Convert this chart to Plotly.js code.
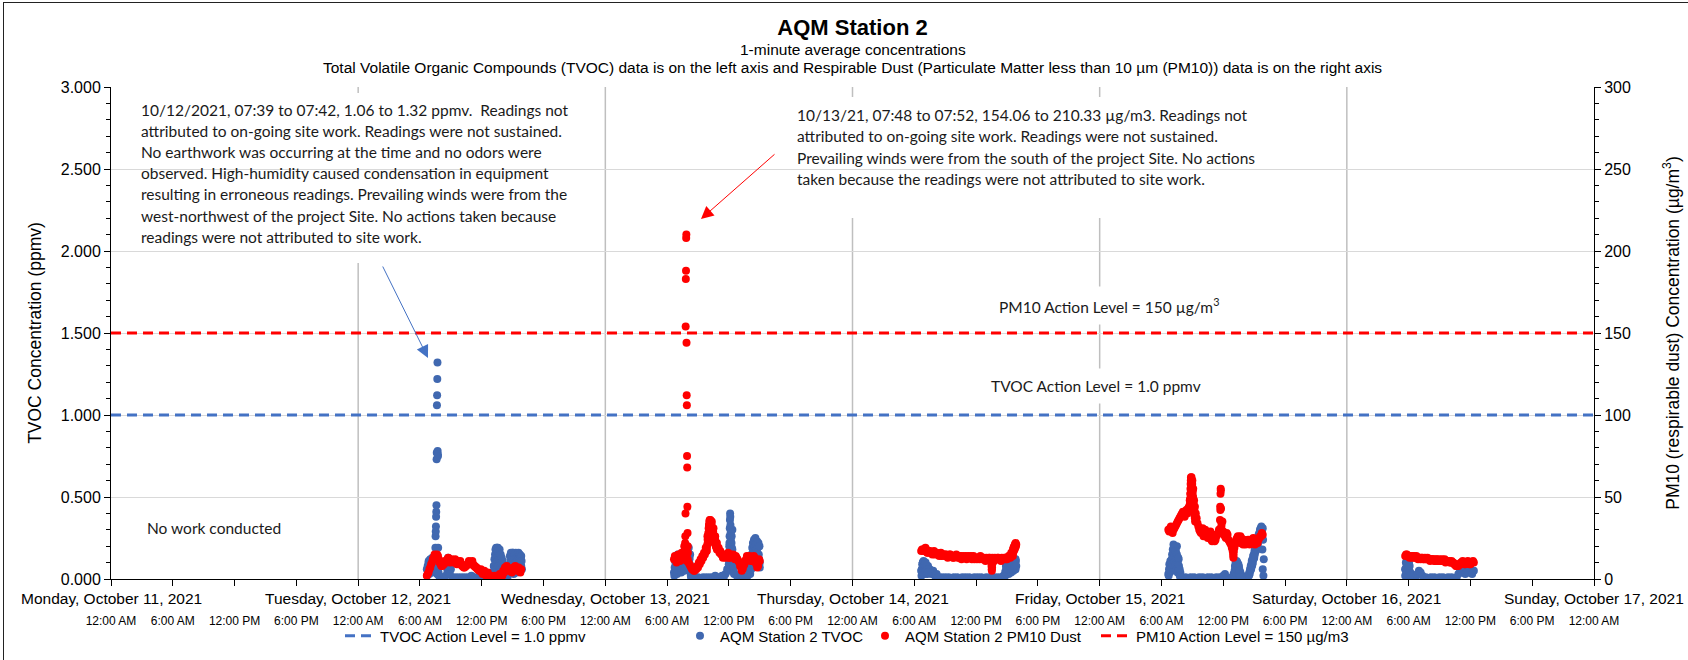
<!DOCTYPE html>
<html>
<head>
<meta charset="utf-8">
<script src="https://cdn.plot.ly/plotly-3.0.1.min.js"></script>
<style>
html,body{margin:0;padding:0;background:#fff;}
#chart{width:1688px;height:660px;}
#frame{position:absolute;left:3px;top:2px;width:1700px;height:700px;border-left:1px solid #222;border-top:1px solid #222;pointer-events:none;}
</style>
</head>
<body>
<div id="chart"></div>
<div id="frame"></div>
<script>
// ---------------- categories / labels ----------------
const dayDates = ['2021-10-11','2021-10-12','2021-10-13','2021-10-14','2021-10-15','2021-10-16','2021-10-17'];
const dayLabels = ['Monday, October 11, 2021','Tuesday, October 12, 2021','Wednesday, October 13, 2021','Thursday, October 14, 2021','Friday, October 15, 2021','Saturday, October 16, 2021','Sunday, October 17, 2021'];
const tickHours = ['00:00','06:00','12:00','18:00'];
const timeLabels = ['12:00 AM','6:00 AM','12:00 PM','6:00 PM'];

const tvocActionLevel = 1.0;   // ppmv
const pm10ActionLevel = 150;   // ug/m3

// ---------------- TVOC (ppmv) ----------------
// Oct 12
const tvoc1012Base  = [0.06,0.10,0.08,0.12,0.09,0.14,0.03,0.02,0.01,0.00,0.01,0.02,0.08,0.12,0.06,0.01,0.00,0.01,0.00,0.01,0.00,0.01,0.00,0.01,0.00,0.01,0.02,0.00,0.01,0.00,0.01,0.00,0.01,0.00,0.01,0.02,0.01,0.02,0.04,0.08,0.15,0.19,0.17,0.12,0.09,0.05,0.02,0.01,0.06,0.12,0.16,0.14,0.13,0.10,0.12,0.08]; // 06:40, 10 min
const tvoc1012Edge  = [0.02,0.08,0.05,0.11,0.03,0.09,0.12,0.06,0.10,0.04,0.13,0.07,0.10,0.05,0.11,0.08]; // 06:42, 3 min
const tvoc1012Spike = [0.10,0.14,0.19,0.26,0.29,0.32,0.38,0.41,0.45,0.73,0.77,1.06,1.12,1.22,1.32,0.78,0.76,0.75,0.19,0.08,0.04]; // 07:28, 1 min
const tvoc1012Bump1 = [0.05,0.10,0.13,0.11,0.08,0.12,0.06,0.03]; // 08:40, 2 min
const tvoc1012Bump2 = [0.03,0.08,0.12,0.06,0.15,0.18,0.10,0.19,0.14,0.05,0.17,0.11,0.19,0.08,0.16,0.13,0.04,0.18,0.12,0.07,0.15,0.10,0.03,0.13,0.09,0.02,0.11,0.06,0.04,0.08,0.02]; // 13:10, 2 min
const tvoc1012Bump3 = [0.04,0.09,0.14,0.07,0.12,0.16,0.10,0.05,0.15,0.13,0.08,0.16,0.11,0.03,0.14,0.09,0.15,0.12,0.06,0.16,0.10,0.13,0.04,0.15,0.11,0.08,0.14,0.16,0.09,0.12,0.05,0.15,0.10,0.13,0.07,0.14,0.11,0.06]; // 14:40, 2 min
// Oct 13
const tvoc1013Base  = [0.04,0.12,0.08,0.14,0.06,0.13,0.10,0.15,0.09,0.12,0.01,0.00,0.01,0.00,0.01,0.00,0.00,0.01,0.00,0.01,0.00,0.01,0.00,0.01,0.02,0.00,0.01,0.00,0.02,0.01,0.03,0.06,0.12,0.22,0.30,0.10,0.03,0.01,0.00,0.01,0.02,0.01,0.00,0.02,0.05,0.12,0.18,0.22,0.15,0.20,0.10]; // 06:40, 10 min
const tvoc1013Edge  = [0.02,0.07,0.11,0.04,0.09,0.14,0.06,0.12,0.03,0.10,0.15,0.08,0.13,0.05,0.11,0.14,0.07,0.12,0.09,0.15,0.04,0.13,0.10,0.06,0.14,0.11,0.08,0.15,0.12,0.05,0.09,0.13,0.16,0.10,0.18,0.07,0.14,0.20,0.12,0.08,0.17,0.11,0.19,0.06,0.13,0.09,0.15,0.04,0.02]; // 06:42, 2 min
const tvoc1013Peak  = [0.05,0.09,0.12,0.16,0.20,0.22,0.26,0.31,0.36,0.40,0.38,0.33,0.28,0.24,0.20,0.17,0.14,0.22,0.26,0.19,0.15,0.12,0.18,0.10,0.08,0.13,0.09,0.06,0.11,0.07,0.04,0.08,0.03]; // 11:58, 1 min
const tvoc1013End   = [0.03,0.08,0.12,0.06,0.15,0.10,0.19,0.13,0.22,0.09,0.17,0.24,0.14,0.20,0.11,0.25,0.16,0.21,0.08,0.18,0.23,0.13,0.19,0.10,0.22,0.15,0.12,0.20,0.07]; // 14:04, 2 min
// Oct 14
const tvoc1014Base  = [0.05,0.10,0.07,0.04,0.08,0.06,0.03,0.05,0.02,0.03,0.01,0.00,0.01,0.00,0.01,0.00,0.01,0.00,0.00,0.01,0.00,0.01,0.00,0.00,0.01,0.00,0.01,0.00,0.01,0.00,0.00,0.01,0.00,0.01,0.00,0.01,0.00,0.00,0.01,0.00,0.01,0.00,0.00,0.01,0.00,0.01,0.00,0.01,0.02,0.04,0.06,0.09,0.05,0.11,0.08,0.12]; // 06:40, 10 min
const tvoc1014Edge  = [0.02,0.06,0.09,0.04,0.10,0.07,0.11,0.05,0.08,0.03,0.09,0.06,0.10,0.04,0.07,0.05,0.08,0.03,0.06,0.04]; // 06:42, 2 min
const tvoc1014End   = [0.02,0.05,0.08,0.03,0.07,0.10,0.04,0.09,0.06,0.11,0.03,0.08,0.12,0.05,0.10,0.07,0.11,0.04,0.09,0.12,0.06,0.10,0.08,0.12,0.05,0.11,0.09,0.07,0.12,0.10,0.06,0.11,0.08]; // 14:50, 2 min
// Oct 15
const tvoc1015Base  = [0.03,0.08,0.05,0.10,0.15,0.20,0.12,0.04,0.01,0.00,0.01,0.00,0.00,0.01,0.00,0.01,0.00,0.00,0.01,0.00,0.01,0.00,0.00,0.01,0.00,0.01,0.00,0.00,0.01,0.00,0.01,0.00,0.02,0.03,0.01,0.00,0.00,0.01,0.03,0.06,0.10,0.08,0.04,0.02,0.01,0.00,0.01,0.03,0.06,0.09,0.13,0.17,0.21,0.25,0.29,0.31]; // 06:40, 10 min
const tvoc1015Edge  = [0.02,0.06,0.09,0.04,0.08,0.11,0.05,0.10,0.07,0.12,0.15,0.09,0.18,0.13,0.21,0.16,0.11,0.19,0.14,0.20,0.08,0.17,0.12,0.06,0.15,0.10,0.04,0.09,0.13,0.05,0.08,0.03,0.06,0.02,0.01]; // 06:42, 2 min
const tvoc1015Mid   = [0.02,0.05,0.08,0.04,0.10,0.07,0.09,0.11,0.06,0.10,0.08,0.05,0.09,0.04,0.07,0.03,0.05,0.02,0.01]; // 13:04, 2 min
const tvoc1015End   = [0.02,0.04,0.03,0.06,0.05,0.08,0.06,0.09,0.11,0.08,0.12,0.10,0.14,0.12,0.15,0.13,0.17,0.15,0.19,0.17,0.20,0.18,0.22,0.20,0.24,0.21,0.25,0.23,0.27,0.24,0.28,0.26,0.30,0.27,0.31,0.29,0.32,0.28,0.30,0.18,0.06,0.24,0.02,0.12]; // 14:30, 2 min
// Oct 16
const tvoc1016Base  = [0.06,0.11,0.08,0.04,0.01,0.00,0.01,0.03,0.05,0.04,0.02,0.00,0.01,0.00,0.00,0.01,0.00,0.01,0.00,0.00,0.01,0.00,0.01,0.00,0.00,0.01,0.00,0.01,0.00,0.00,0.01,0.03,0.05,0.04,0.06,0.03,0.05,0.04,0.06,0.03,0.05]; // 05:40, 10 min
const tvoc1016Edge  = [0.02,0.06,0.10,0.04,0.08,0.12,0.05,0.09,0.11,0.03,0.07,0.10,0.05,0.08,0.03,0.02]; // 05:40, 2 min

// ---------------- PM10 (ug/m3) ----------------
const pm1012Base  = [2,4,7,10,13,14,15,12,9,8,9,10,12,12,11,11,11,10,11,10,9,8,7,8,9,10,10,9,8,7,6,5,4,4,3,3,2,1,1,1,0.5,1,1,2,2,4,6,7,6,5,5,6,7,6,5,6]; // 06:40, 10 min
const pm1012Alt   = [3,6,9,12,15,13,14,10,8,9,11,11,13,10,12,10,12,9,10,11,8,7,8,9,11,9,11,8,7,6,5,6,3,5,2,4,1,2,0.5,2,1,2,3,3,5,7,8,5,6,4,7,8,5,7,4]; // 06:45, 10 min
const pm1013Base  = [12,13,11,14,12,13,20,14,12,9,7,6,5,6,7,9,11,13,15,17,22,30,35,31,26,22,19,17,15,14,13,14,13,15,14,13,14,12,10,7,6,9,12,13,14,12,11,13,9,8,11]; // 06:40, 10 min
const pm1013Alt   = [14,10,15,11,16,12,18,11,10,8,6,5,7,8,10,12,14,16,19,26,33,34,28,24,20,18,16,15,13,15,14,16,13,14,15,12,13,11,8,5,8,11,14,13,11,12,14,10,7,12]; // 06:45, 10 min
const pm1013Spike = [18,22,26,40,154,183,188,208,210,144,112,106,75,68,44,28,20,16]; // 07:44, 1 min
const pm1013Peak  = [17,19,21,24,26,28,31,33,35,36,34,36,35,33,34,32,30,31,28,29,27,25,26,23,22,24,21,20,22,19,18]; // 09:50, 2 min
const pm1014Base  = [17,18,17,18,16,17,16,16,15,16,15,15,14,15,15,14,14,15,14,13,14,14,13,14,13,13,14,13,13,14,13,12,13,13,12,13,13,12,13,12,13,12,12,13,12,13,12,13,12,13,12,14,13,15,19,21]; // 06:40, 10 min
const pm1014Alt   = [18,17,19,16,17,16,15,17,16,15,14,16,15,14,15,13,15,14,13,14,15,13,14,12,14,13,12,14,13,12,14,13,12,13,14,12,13,11,12,13,12,13,11,12,13,12,11,12,13,12,13,14,16,18,20]; // 06:45, 10 min
const pm1014Drip  = [12,10,8,6,5,7,9,11]; // 13:28, 1 min
const pm1014End   = [14,16,19,17,20,18,21,19,22,20,21]; // 15:34, 2 min
const pm1015Base  = [30,31,29,30,32,34,36,38,40,39,41,40,44,52,60,48,40,34,30,28,31,27,29,25,28,24,27,23,26,28,30,33,29,26,28,24,22,19,16,22,25,23,26,22,24,21,23,22,24,22,23,24,22,25,26,27]; // 06:40, 10 min
const pm1015Alt   = [29,32,28,31,33,35,37,39,41,38,42,43,48,58,55,44,37,32,29,30,26,30,27,26,29,23,25,24,27,30,31,35,27,25,27,23,21,17,19,24,26,22,25,21,23,22,24,21,23,25,21,23,24,26,28]; // 06:45, 10 min
const pm1015Peak  = [42,44,46,49,52,55,58,60,62,61,59,62,60,57,55,58,54,51,53,49,50,47,45,46,43,44,41,42,39,40,38,37,35]; // 08:44, 1 min
const pm1015Spikes= [30,36,44,42,52,55,54,43,35,31]; // 11:40, 1 min
const pm1015Drip  = [22,18,15,13,14,17,21]; // 12:56, 1 min
const pm1016Base  = [14,15,14,14,13,14,13,13,13,12,13,12,12,13,12,12,12,11,12,11,12,11,11,12,11,11,10,11,10,9,8,8,9,10,10,9,10,10,9,10,10]; // 05:40, 10 min
const pm1016Alt   = [15,14,13,14,14,13,14,12,13,13,12,13,12,12,11,12,12,11,12,11,11,12,11,10,11,11,10,10,9,8,9,9,10,11,9,10,11,9,10,11]; // 05:45, 10 min

// segment tables: [date, start time, step (min), values]
const tvocSegments = [
  [dayDates[1],'06:40',10,tvoc1012Base],[dayDates[1],'06:42',3,tvoc1012Edge],[dayDates[1],'07:28',1,tvoc1012Spike],
  [dayDates[1],'08:40',2,tvoc1012Bump1],[dayDates[1],'13:10',2,tvoc1012Bump2],[dayDates[1],'14:40',2,tvoc1012Bump3],
  [dayDates[2],'06:40',10,tvoc1013Base],[dayDates[2],'06:42',2,tvoc1013Edge],[dayDates[2],'11:58',1,tvoc1013Peak],[dayDates[2],'14:04',2,tvoc1013End],
  [dayDates[3],'06:40',10,tvoc1014Base],[dayDates[3],'06:42',2,tvoc1014Edge],[dayDates[3],'14:50',2,tvoc1014End],
  [dayDates[4],'06:40',10,tvoc1015Base],[dayDates[4],'06:42',2,tvoc1015Edge],[dayDates[4],'13:04',2,tvoc1015Mid],[dayDates[4],'14:30',2,tvoc1015End],
  [dayDates[5],'05:40',10,tvoc1016Base],[dayDates[5],'05:40',2,tvoc1016Edge]
];
const pmSegments = [
  [dayDates[1],'06:40',10,pm1012Base],[dayDates[1],'06:45',10,pm1012Alt],
  [dayDates[2],'06:40',10,pm1013Base],[dayDates[2],'06:45',10,pm1013Alt],[dayDates[2],'07:44',1,pm1013Spike],[dayDates[2],'09:50',2,pm1013Peak],
  [dayDates[3],'06:40',10,pm1014Base],[dayDates[3],'06:45',10,pm1014Alt],[dayDates[3],'13:28',1,pm1014Drip],[dayDates[3],'15:34',2,pm1014End],
  [dayDates[4],'06:40',10,pm1015Base],[dayDates[4],'06:45',10,pm1015Alt],[dayDates[4],'08:44',1,pm1015Peak],[dayDates[4],'11:40',1,pm1015Spikes],[dayDates[4],'12:56',1,pm1015Drip],
  [dayDates[5],'05:40',10,pm1016Base],[dayDates[5],'05:45',10,pm1016Alt]
];

// ---------------- notes ----------------
const note1Lines = [
  '10/12/2021, 07:39 to 07:42, 1.06 to 1.32 ppmv.\u00A0 Readings not',
  'attributed to on-going site work. Readings were not sustained.',
  'No earthwork was occurring at the time and no odors were',
  'observed. High-humidity caused condensation in equipment',
  'resulting in erroneous readings. Prevailing winds were from the',
  'west-northwest of the project Site. No actions taken because',
  'readings were not attributed to site work.'
];
const note2Lines = [
  '10/13/21, 07:48 to 07:52, 154.06 to 210.33 \u00B5g/m3. Readings not',
  'attributed to on-going site work. Readings were not sustained.',
  'Prevailing winds were from the south of the project Site. No actions',
  'taken because the readings were not attributed to site work.'
];

// ---------------- build ----------------
const pad2 = n => String(n).padStart(2,'0');
function buildSeries(segs){
  const x=[], y=[];
  segs.forEach(([d,t,step,vals])=>{
    const [h,m]=t.split(':').map(Number);
    vals.forEach((v,i)=>{
      const tot=h*60+m+i*step;
      x.push(d+' '+pad2(Math.floor(tot/60))+':'+pad2(tot%60));
      y.push(v);
    });
  });
  return {x,y};
}
const tvoc = buildSeries(tvocSegments);
const pm = buildSeries(pmSegments);

const FONT = '"Liberation Sans", Arial, sans-serif';
const NOTE_FONT = 'Lato, Carlito, Calibri, sans-serif';
const BLUE_M = '#4068B0', BLUE_L = '#4472C4', RED = '#FF0000';

const xStart = dayDates[0]+' 00:00', xEnd = dayDates[6]+' 00:00';
const tickvals=[], ticktext=[];
dayDates.forEach((d,di)=>{
  tickHours.forEach((h,hi)=>{
    if (di===dayDates.length-1 && hi>0) return;
    tickvals.push(d+' '+h); ticktext.push(timeLabels[hi]);
  });
});

// pixel helpers for layout placement (plot area 111..1594 x 87..579)
const PL=111, PR=1594, PT=87, PB=579;
const px = p => (p-PL)/(PR-PL);
const py = p => (PB-p)/(PB-PT);

const traces = [
  {type:'scatter', mode:'lines', name:'TVOC Action Level = 1.0 ppmv', x:[xStart,xEnd], y:[tvocActionLevel,tvocActionLevel],
   line:{color:BLUE_L, width:3, dash:'10px,6px'}, yaxis:'y', legend:'legend'},
  {type:'scatter', mode:'markers', name:'AQM Station 2 TVOC', x:tvoc.x, y:tvoc.y,
   marker:{color:BLUE_M, size:8, line:{width:0}}, yaxis:'y', legend:'legend2'},
  {type:'scatter', mode:'markers', name:'AQM Station 2 PM10 Dust', x:pm.x, y:pm.y,
   marker:{color:RED, size:8, line:{width:0}}, yaxis:'y2', legend:'legend3'},
  {type:'scatter', mode:'lines', name:'PM10 Action Level = 150 \u00B5g/m3', x:[xStart,xEnd], y:[pm10ActionLevel,pm10ActionLevel],
   line:{color:RED, width:3, dash:'10px,6px'}, yaxis:'y2', legend:'legend4'}
];

const shapes = [];
dayDates.slice(1,6).forEach(d=>{
  shapes.push({type:'line', xref:'x', yref:'paper', x0:d+' 00:00', x1:d+' 00:00', y0:0, y1:1,
    line:{color:'#BFBFBF', width:1.5}, layer:'between'});
});
shapes.push({type:'rect', xref:'paper', yref:'paper', x0:px(128), x1:px(600), y0:py(263), y1:py(93), fillcolor:'#FFFFFF', line:{width:0}, layer:'between'});
shapes.push({type:'rect', xref:'paper', yref:'paper', x0:px(784), x1:px(1310), y0:py(218), y1:py(97), fillcolor:'#FFFFFF', line:{width:0}, layer:'between'});

const noteFont = {family:NOTE_FONT, size:15.5, color:'#1a1a1a'};
const mainFont = (s)=>({family:FONT, size:s, color:'#000'});
const annotations = [];
// subtitle lines
annotations.push({xref:'paper', yref:'paper', x:0.5, y:py(49), xanchor:'center', yanchor:'middle', showarrow:false,
  text:'1-minute average concentrations', font:mainFont(15.5)});
annotations.push({xref:'paper', yref:'paper', x:0.5, y:py(67.5), xanchor:'center', yanchor:'middle', showarrow:false,
  text:'Total Volatile Organic Compounds (TVOC) data is on the left axis and Respirable Dust (Particulate Matter less than 10 \u00B5m (PM10)) data is on the right axis', font:mainFont(15.5)});
// day labels
dayDates.forEach((d,i)=>{
  annotations.push({xref:'x', yref:'paper', x:d+' 00:00', y:py(598), xanchor:'center', yanchor:'middle', showarrow:false,
    text:dayLabels[i], font:mainFont(15.5)});
});
// note boxes
note1Lines.forEach((t,i)=>annotations.push({xref:'paper', yref:'paper', x:px(139), y:py(110+i*21.1), xanchor:'left', yanchor:'middle', showarrow:false, text:t, font:noteFont}));
note2Lines.forEach((t,i)=>annotations.push({xref:'paper', yref:'paper', x:px(795), y:py(115+i*21.3), xanchor:'left', yanchor:'middle', showarrow:false, text:t, font:noteFont}));
// arrows
annotations.push({xref:'paper', yref:'paper', x:px(428), y:py(358), ax:-46, ay:-93, text:'', showarrow:true, arrowhead:2, arrowsize:2.5, arrowwidth:1, arrowcolor:BLUE_L});
annotations.push({xref:'paper', yref:'paper', x:px(701), y:py(219), ax:75, ay:-66, text:'', showarrow:true, arrowhead:2, arrowsize:2.5, arrowwidth:1, arrowcolor:RED});
// action level labels
annotations.push({xref:'paper', yref:'paper', x:px(990), y:py(305), xanchor:'left', yanchor:'middle', showarrow:false,
  text:'PM10 Action Level = 150 \u00B5g/m<sup>3</sup>', font:noteFont, bgcolor:'#FFFFFF', borderpad:8});
annotations.push({xref:'paper', yref:'paper', x:px(982), y:py(386), xanchor:'left', yanchor:'middle', showarrow:false,
  text:'TVOC Action Level = 1.0 ppmv', font:noteFont, bgcolor:'#FFFFFF', borderpad:8});
annotations.push({xref:'paper', yref:'paper', x:px(145), y:py(528), xanchor:'left', yanchor:'middle', showarrow:false,
  text:'No work conducted', font:noteFont});

const legendBase = {orientation:'h', xref:'paper', yref:'paper', y:py(636), xanchor:'left', yanchor:'middle',
  font:mainFont(15), bgcolor:'rgba(0,0,0,0)', borderwidth:0, itemwidth:30};

const nb = n => '\u00A0'.repeat(n);
const layout = {
  width:1688, height:660,
  margin:{l:PL, r:1688-PR, t:PT, b:660-PB, pad:0, autoexpand:false},
  paper_bgcolor:'#FFFFFF', plot_bgcolor:'#FFFFFF',
  font:mainFont(15),
  hovermode:false,
  showlegend:true,
  title:{text:'<b>AQM Station 2</b>', font:mainFont(22), xref:'paper', x:0.5, xanchor:'center', yref:'container', y:1-27/660, yanchor:'middle'},
  xaxis:{type:'date', range:[xStart,xEnd], tickmode:'array', tickvals:tickvals, ticktext:ticktext,
    ticks:'outside', ticklen:6, tickcolor:'#000', tickwidth:1, showline:true, linecolor:'#000', linewidth:1,
    showgrid:false, zeroline:false, tickfont:mainFont(12), ticklabelstandoff:25, automargin:false},
  yaxis:{range:[0,3], tickmode:'linear', tick0:0, dtick:0.5, tickformat:'.3f',
    ticks:'outside', ticklen:6, tickcolor:'#000', showline:true, linecolor:'#000', linewidth:1,
    showgrid:true, gridcolor:'#D9D9D9', gridwidth:1, zeroline:false, tickfont:mainFont(16),
    minor:{dtick:0.1, tick0:0, ticks:'outside', ticklen:4, tickcolor:'#000', showgrid:false},
    title:{text:nb(6)+'TVOC Concentration (ppmv)', font:mainFont(17.5), standoff:14}, automargin:false},
  yaxis2:{overlaying:'y', side:'right', range:[0,300], tickmode:'linear', tick0:0, dtick:50,
    ticks:'outside', ticklen:6, tickcolor:'#000', showline:true, linecolor:'#000', linewidth:1,
    showgrid:false, zeroline:false, tickfont:mainFont(16),
    minor:{dtick:10, tick0:0, ticks:'outside', ticklen:4, tickcolor:'#000', showgrid:false},
    title:{text:nb(5)+'PM10 (respirable dust) Concentration (\u00B5g/m<sup>3</sup>)', font:mainFont(17.5), standoff:36}, automargin:false},
  legend: Object.assign({}, legendBase, {x:px(340)}),
  legend2: Object.assign({}, legendBase, {x:px(680)}),
  legend3: Object.assign({}, legendBase, {x:px(865)}),
  legend4: Object.assign({}, legendBase, {x:px(1096)}),
  shapes:shapes,
  annotations:annotations
};

Plotly.newPlot('chart', traces, layout, {displayModeBar:false, staticPlot:true});
</script>
</body>
</html>
